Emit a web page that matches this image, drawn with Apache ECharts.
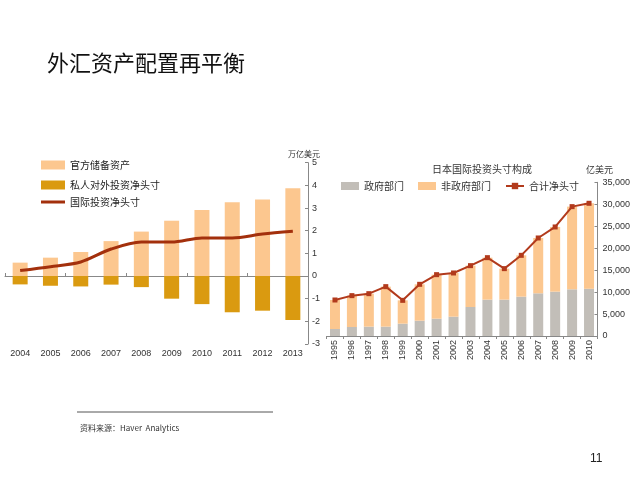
<!DOCTYPE html>
<html>
<head>
<meta charset="utf-8">
<script src="https://cdn.jsdelivr.net/npm/echarts@6/dist/echarts.min.js"></script>
<style>
html,body{margin:0;padding:0;background:#fff;}
#c{width:640px;height:495px;}
</style>
</head>
<body>
<div id="c"></div>
<script>
// Left chart data (万亿美元)
var leftYears = ['2004','2005','2006','2007','2008','2009','2010','2011','2012','2013'];
var officialReserves = [0.59, 0.81, 1.06, 1.54, 1.96, 2.44, 2.91, 3.25, 3.38, 3.87];
var privateNet = [-0.37, -0.43, -0.46, -0.38, -0.49, -1.0, -1.24, -1.60, -1.53, -1.94];
var netIIP = [0.24, 0.41, 0.62, 1.19, 1.50, 1.50, 1.68, 1.68, 1.85, 1.97];

// Right chart data (亿美元)
var rightYears = ['1995','1996','1997','1998','1999','2000','2001','2002','2003','2004','2005','2006','2007','2008','2009','2010'];
var govSector = [1600, 2050, 2130, 2130, 2810, 3490, 3950, 4400, 6600, 8280, 8280, 8960, 9720, 10100, 10630, 10780];
var totalNet = [8200, 9190, 9640, 11240, 8120, 11770, 13970, 14350, 16020, 17840, 15340, 18370, 22320, 24830, 29460, 30220];
var nonGovSector = totalNet.map(function(t, i){ return t - govSector[i]; });

var FONT = 'Liberation Sans, Arial, sans-serif';
var CJK = '"Noto Sans CJK SC", sans-serif';

var chart = echarts.init(document.getElementById('c'), null, {renderer: 'canvas'});
chart.setOption({
  animation: false,
  backgroundColor: '#fff',
  textStyle: {fontFamily: FONT},
  title: [
    {text: '外汇资产配置再平衡', left: 42, top: 47,
     textStyle: {fontFamily: CJK, fontSize: 22, fontWeight: 'normal', color: '#111'}},
    {text: '日本国际投资头寸构成', left: 477, top: 159, textAlign: 'center',
     textStyle: {fontFamily: CJK, fontSize: 10, fontWeight: 'normal', color: '#333'}}
  ],
  legend: [
    {left: 41, top: 159, padding: 0, itemWidth: 24, itemHeight: 9, itemGap: 8, orient: 'vertical',
     data: [{name: '官方储备资产', icon: 'rect'}, {name: '私人对外投资净头寸', icon: 'rect'}],
     textStyle: {fontFamily: CJK, fontSize: 10, color: '#222', lineHeight: 12}},
    {left: 41, top: 197, padding: 0, itemWidth: 24, itemHeight: 3,
     data: [{name: '国际投资净头寸', icon: 'rect'}],
     textStyle: {fontFamily: CJK, fontSize: 10, color: '#222'}},
    {left: 341, top: 181, padding: 0, itemWidth: 18, itemHeight: 8, itemGap: 14,
     data: [{name: '政府部门', icon: 'rect'}, {name: '非政府部门', icon: 'rect'}, {name: '合计净头寸'}],
     textStyle: {fontFamily: CJK, fontSize: 10, color: '#333'}}
  ],
  grid: [
    {left: 5, right: 332, top: 162.7, bottom: 151},
    {left: 326.5, right: 42.5, top: 182.3, bottom: 159}
  ],
  xAxis: [
    {gridIndex: 0, type: 'category', data: leftYears,
     axisLine: {show: false, onZero: false}, axisTick: {show: false},
     axisLabel: {fontSize: 9, color: '#333', margin: 5}},
    {gridIndex: 0, type: 'category', data: leftYears,
     axisLine: {show: true, onZero: true, lineStyle: {color: '#888'}},
     axisTick: {show: true, length: 3, lineStyle: {color: '#888'}},
     axisLabel: {show: false}},
    {gridIndex: 1, type: 'category', data: rightYears,
     axisLine: {show: true, lineStyle: {color: '#888'}},
     axisTick: {show: true, length: 3, lineStyle: {color: '#888'}},
     axisLabel: {fontSize: 9, color: '#333', rotate: 90, margin: 4}}
  ],
  yAxis: [
    {gridIndex: 0, type: 'value', position: 'right', min: -3, max: 5, interval: 1,
     name: '万亿美元', nameLocation: 'end', nameGap: 4,
     nameTextStyle: {fontFamily: CJK, fontSize: 8, color: '#333', align: 'right', padding: [0, -12, 0, 0]},
     splitLine: {show: false},
     axisLine: {show: true, lineStyle: {color: '#888'}},
     axisTick: {show: true, inside: true, length: 3, lineStyle: {color: '#888'}},
     axisLabel: {fontSize: 9, color: '#333', margin: 4}},
    {gridIndex: 1, type: 'value', position: 'right', min: 0, max: 35000, interval: 5000,
     name: '亿美元', nameLocation: 'end', nameGap: 8,
     nameTextStyle: {fontFamily: CJK, fontSize: 9, color: '#333', align: 'center', padding: [0, 0, 0, 4]},
     splitLine: {show: false},
     axisLine: {show: true, lineStyle: {color: '#888'}},
     axisTick: {show: true, inside: true, length: 3, lineStyle: {color: '#888'}},
     axisLabel: {fontSize: 9, color: '#333', margin: 5,
       formatter: function(v){ return v.toString().replace(/\B(?=(\d{3})+(?!\d))/g, ','); }}}
  ],
  series: [
    {name: '官方储备资产', type: 'bar', xAxisIndex: 0, yAxisIndex: 0, stack: 'L',
     data: officialReserves, barWidth: 15, itemStyle: {color: '#FCC78F'}},
    {name: '私人对外投资净头寸', type: 'bar', xAxisIndex: 0, yAxisIndex: 0, stack: 'L',
     data: privateNet, barWidth: 15, itemStyle: {color: '#DA9A10'}},
    {name: '国际投资净头寸', type: 'line', xAxisIndex: 0, yAxisIndex: 0,
     data: netIIP, smooth: 0.3, showSymbol: false, symbol: 'none',
     lineStyle: {color: '#A3300C', width: 3}, itemStyle: {color: '#A3300C'}, z: 5},
    {name: '政府部门', type: 'bar', xAxisIndex: 2, yAxisIndex: 1, stack: 'R',
     data: govSector, barWidth: 10, itemStyle: {color: '#C2BEB8'}},
    {name: '非政府部门', type: 'bar', xAxisIndex: 2, yAxisIndex: 1, stack: 'R',
     data: nonGovSector, barWidth: 10, itemStyle: {color: '#FCC78F'}},
    {name: '合计净头寸', type: 'line', xAxisIndex: 2, yAxisIndex: 1,
     data: totalNet, symbol: 'rect', symbolSize: 5,
     lineStyle: {color: '#B23A1C', width: 2}, itemStyle: {color: '#B23A1C'}, z: 5}
  ],
  graphic: [
    {type: 'line', shape: {x1: 77, y1: 412, x2: 273, y2: 412}, style: {stroke: '#555', lineWidth: 1}},
    {type: 'text', left: 80, top: 424, style: {text: '资料来源：Haver  Analytics', fontFamily: CJK, fontSize: 8, fill: '#333'}},
    {type: 'text', left: 590, top: 453, style: {text: '11', fontFamily: FONT, fontSize: 12, fill: '#222'}}
  ]
});
</script>
</body>
</html>
